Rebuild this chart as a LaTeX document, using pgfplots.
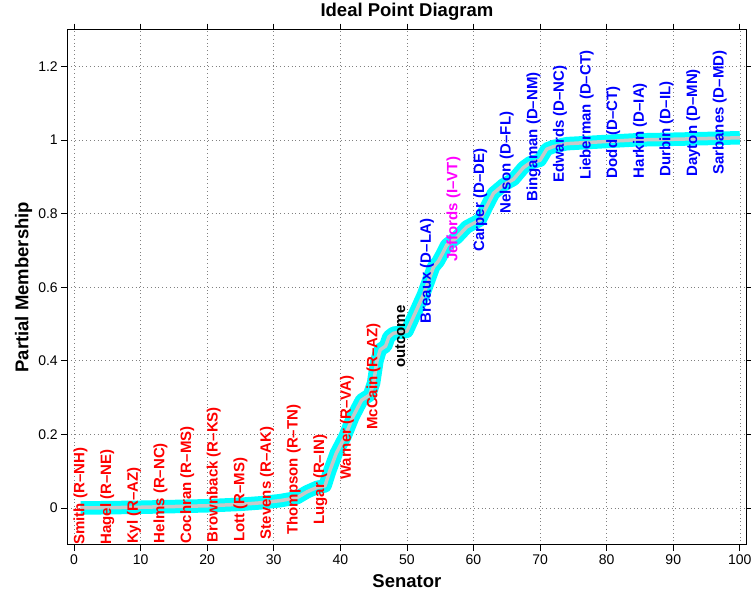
\documentclass[border=0pt]{standalone}
\usepackage{fontspec}
\setmainfont{Liberation Sans}
\usepackage{pgfplots}
\usepackage{pgfplotstable}
\pgfplotsset{compat=1.18}
\definecolor{bandc}{RGB}{0,255,255}
\definecolor{midc}{RGB}{200,200,200}
\definecolor{rep}{RGB}{255,0,0}
\definecolor{dem}{RGB}{0,0,255}
\definecolor{ind}{RGB}{255,0,255}
\newcommand{\labfont}{\fontsize{15bp}{16bp}\selectfont\bfseries}
\pgfplotstableread{
x y
1 0.000
10 0.002
20 0.006
25 0.010
28 0.014
31 0.020
33.5 0.028
35 0.044
36.5 0.056
37.7 0.060
38.4 0.100
39.4 0.149
40.7 0.194
41.9 0.248
43.2 0.293
44.4 0.307
45.0 0.340
45.5 0.400
46.0 0.430
46.8 0.440
47.3 0.465
48.0 0.475
50.0 0.480
50.5 0.500
51.5 0.540
52.5 0.580
53.3 0.620
54.0 0.655
54.7 0.670
55.3 0.690
56.0 0.715
57.5 0.735
59.0 0.764
61.0 0.783
62.0 0.820
63.0 0.855
64.5 0.878
66.0 0.893
67.5 0.925
68.5 0.938
70.0 0.945
70.5 0.960
71.0 0.975
72.0 0.982
74.0 0.990
80.0 0.996
84.0 1.000
90.0 1.002
100 1.006
}\curve
\begin{document}
\begin{tikzpicture}
\begin{axis}[
  at={(0,0)}, anchor=south west,
  scale only axis, width=679.2bp, height=515.2bp,
  xmin=-1, xmax=101, ymin=-0.1, ymax=1.3,
  xtick={0,10,...,100}, ytick={0,0.2,0.4,0.6,0.8,1,1.2},
  tick align=outside, major tick length=6bp,
  grid=major,
  grid style={black!50, line width=0.6bp, dash pattern=on 0.6bp off 3.2bp},
  axis line style={line width=1.1bp},
  every tick/.style={black, line width=0.8bp},
  tick label style={font=\fontsize{14bp}{14bp}\selectfont},
  /pgf/number format/assume math mode=true,
  clip=false,
  xlabel={Senator},
  xlabel style={font=\fontsize{18.5bp}{19bp}\selectfont\bfseries,
    at={(axis description cs:0.5,-0.0835)}, anchor=base},
  ylabel={Partial Membership},
  ylabel style={font=\fontsize{18.5bp}{19bp}\selectfont\bfseries,
    at={(axis description cs:-0.0574,0.5)}, anchor=base, rotate=0},
]
\addplot[bandc, line width=13.5bp, line join=round] table[x=x, y=y] {\curve};
\addplot[midc, line width=3.5bp, line join=round] table[x=x, y=y] {\curve};
\begin{scope}[every node/.style={rotate=90, anchor=west, inner sep=0pt, font=\labfont}]
\node[text=rep] at (axis cs:1,-0.100) {Smith (R--NH)};
\node[text=rep] at (axis cs:5,-0.100) {Hagel (R--NE)};
\node[text=rep] at (axis cs:9,-0.098) {Kyl (R--AZ)};
\node[text=rep] at (axis cs:13,-0.096) {Helms (R--NC)};
\node[text=rep] at (axis cs:17,-0.096) {Cochran (R--MS)};
\node[text=rep] at (axis cs:21,-0.093) {Brownback (R--KS)};
\node[text=rep] at (axis cs:25,-0.092) {Lott (R--MS)};
\node[text=rep] at (axis cs:29,-0.085) {Stevens (R--AK)};
\node[text=rep] at (axis cs:33,-0.073) {Thompson (R--TN)};
\node[text=rep] at (axis cs:37,-0.046) {Lugar (R--IN)};
\node[text=rep] at (axis cs:41,0.076) {Warner (R--VA)};
\node[text=rep] at (axis cs:45,0.212) {McCain (R--AZ)};
\node[text=black] at (axis cs:49,0.380) {outcome};
\node[text=dem] at (axis cs:53,0.502) {Breaux (D--LA)};
\node[text=ind] at (axis cs:57,0.668) {Jeffords (I--VT)};
\node[text=dem] at (axis cs:61,0.697) {Carper (D--DE)};
\node[text=dem] at (axis cs:65,0.800) {Nelson (D--FL)};
\node[text=dem] at (axis cs:69,0.832) {Bingaman (D--NM)};
\node[text=dem] at (axis cs:73,0.883) {Edwards (D--NC)};
\node[text=dem] at (axis cs:77,0.891) {Lieberman (D--CT)};
\node[text=dem] at (axis cs:81,0.896) {Dodd (D--CT)};
\node[text=dem] at (axis cs:85,0.896) {Harkin (D--IA)};
\node[text=dem] at (axis cs:89,0.900) {Durbin (D--IL)};
\node[text=dem] at (axis cs:93,0.900) {Dayton (D--MN)};
\node[text=dem] at (axis cs:97,0.905) {Sarbanes (D--MD)};
\end{scope}
\end{axis}
\node[anchor=base, inner sep=0pt, font=\fontsize{18.5bp}{19bp}\selectfont\bfseries] at (339.6bp,528bp) {Ideal Point Diagram};
\pgfresetboundingbox
\path[use as bounding box] (-67.3bp,-49.2bp) rectangle (683.7bp,544.8bp);
\end{tikzpicture}
\end{document}
